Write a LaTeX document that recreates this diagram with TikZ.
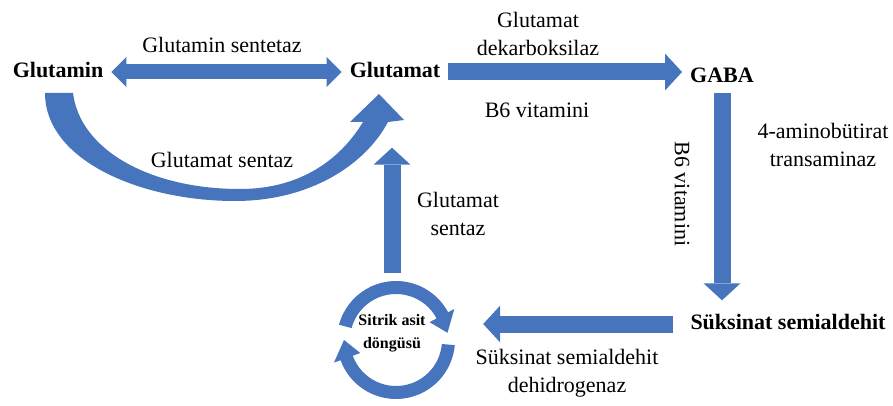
\documentclass[tikz,border=0pt]{standalone}
\usepackage{fontspec}
\setmainfont{LiberationSerif}[Extension=.ttf, UprightFont=*-Regular, BoldFont=*-Bold, ItalicFont=*-Italic, BoldItalicFont=*-BoldItalic]
\usepackage{tikz}
\usetikzlibrary{arrows.meta, calc}
\definecolor{arrowblue}{RGB}{70,117,190}
\tikzstyle{metabolite} = [font=\fontsize{22}{26}\selectfont\bfseries, text height=15pt, text depth=4pt, inner xsep=8pt, inner ysep=6pt]
\tikzstyle{cyclelabel} = [circle, minimum size=120pt, inner sep=0pt, align=center, font=\fontsize{16}{23}\selectfont\bfseries]
\tikzstyle{enzyme} = [font=\fontsize{22}{28}\selectfont, align=center, inner sep=0pt]
\tikzstyle{blockarrow} = [draw=arrowblue, line width=17pt, -{Triangle[length=17pt, width=37pt, line width=0pt]}]
\tikzstyle{doublearrow} = [draw=arrowblue, line width=15pt, {Triangle[length=15pt, width=30pt, line width=0pt]}-{Triangle[length=15pt, width=30pt, line width=0pt]}]

\begin{document}
\begin{tikzpicture}
			[x=1pt, y=1pt]

			\useasboundingbox (0,0) rectangle (893,405);

			\fill [arrowblue] (45,312) .. controls (45,245) and (140,204) .. (235,204) .. controls (310,204) and (365,240) .. (388,283) -- (404,285) -- (379,311) -- (350,283) -- (363,283) .. controls (340,245) and (300,216) .. (240,216) .. controls (150,216) and (80,255) .. (73,312) -- cycle;

			\coordinate (ring) at (396,65);
			\fill [arrowblue] ($(ring)+(165:59)$) arc [start angle=165, end angle=28, radius=59] -- ($(ring)+(28:66)$) -- ($(ring)+(8:52)$) -- ($(ring)+(28:38)$) -- ($(ring)+(28:46)$) arc [start angle=28, end angle=165, radius=46] -- cycle;
			\fill [arrowblue] ($(ring)+(-5:59)$) arc [start angle=-5, end angle=-160, radius=59] -- ($(ring)+(-160:66)$) -- ($(ring)+(-180:52)$) -- ($(ring)+(-160:38)$) -- ($(ring)+(-160:46)$) arc [start angle=-160, end angle=-5, radius=46] -- cycle;

			\node (glutamin) [metabolite] at (58,333) {Glutamin};
			\node (glutamat) [metabolite] at (395,333) {Glutamat};
			\node (gaba) [metabolite] at (722,328) {GABA};
			\node (suksinat) [metabolite] at (788,81) {Süksinat semialdehit};
			\node (cycle) [cyclelabel] at (392,72) {Sitrik asit\\döngüsü};

			\node (gsentetaz) [enzyme] at (222,360) {Glutamin sentetaz};
			\node (gsentaz) [enzyme] at (222,245) {Glutamat sentaz};
			\node (gdekarb) [enzyme] at (538,371) {Glutamat\\dekarboksilaz};
			\node (b6top) [enzyme] at (537,295) {B6 vitamini};
			\node (abat) [enzyme] at (823,260) {4-aminobütirat\\transaminaz};
			\node (b6side) [enzyme, rotate=-90] at (682,211) {B6 vitamini};
			\node (gsentazup) [enzyme] at (458,191) {Glutamat\\sentaz};
			\node (ssadh) [enzyme] at (567,32) {Süksinat semialdehit\\dehidrogenaz};

			\draw [doublearrow] (glutamin.east) -- (glutamat.west);
			\draw [blockarrow] (glutamat.east) -- (gaba.west |- glutamat.east);
			\draw [blockarrow, shorten >=8pt] (gaba.south) -- (gaba.south |- suksinat.north);
			\draw [blockarrow, shorten <=9pt, shorten >=31pt] (suksinat.west) -- (cycle.east |- suksinat.west);
			\draw [blockarrow, shorten >=60pt] (cycle.north) -- (cycle.north |- glutamat.south);

			\end{tikzpicture}
\end{document}
